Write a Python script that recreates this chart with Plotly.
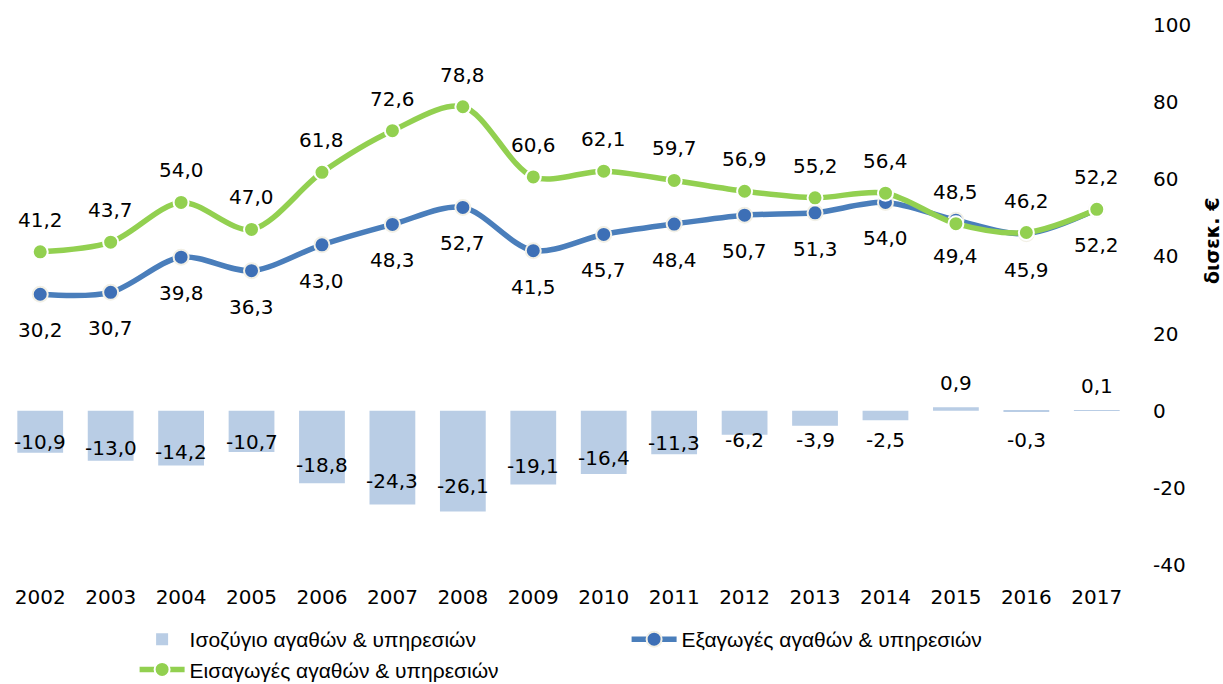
import plotly.graph_objects as go

years = [str(y) for y in range(2002, 2018)]
exports = [30.2, 30.7, 39.8, 36.3, 43.0, 48.3, 52.7, 41.5, 45.7, 48.4, 50.7, 51.3, 54.0, 49.4, 45.9, 52.2]
imports = [41.2, 43.7, 54.0, 47.0, 61.8, 72.6, 78.8, 60.6, 62.1, 59.7, 56.9, 55.2, 56.4, 48.5, 46.2, 52.2]
balance = [-10.9, -13.0, -14.2, -10.7, -18.8, -24.3, -26.1, -19.1, -16.4, -11.3, -6.2, -3.9, -2.5, 0.9, -0.3, 0.1]
y_ticks = [-40, -20, 0, 20, 40, 60, 80, 100]

BAR = "#B9CDE5"
BLUE = "#4A7EBB"
GREEN = "#92D050"
NUM_FONT = dict(family="DejaVu Sans", size=20, color="#000000")


def fmt(v):
    return f"{v:.1f}".replace(".", ",")


fig = go.Figure()

fig.add_trace(go.Bar(
    x=years, y=balance, name="Ισοζύγιο αγαθών & υπηρεσιών",
    marker=dict(color=BAR, line=dict(width=0)),
    hoverinfo="skip",
))

fig.add_trace(go.Scatter(
    x=years, y=exports, name="Εξαγωγές αγαθών & υπηρεσιών",
    mode="lines+markers",
    line=dict(color=BLUE, width=5.5, shape="spline", smoothing=0.9),
    marker=dict(size=15, color="#3D6FB6", line=dict(color="#F2F0E6", width=2)),
))

fig.add_trace(go.Scatter(
    x=years, y=imports, name="Εισαγωγές αγαθών & υπηρεσιών",
    mode="lines+markers",
    line=dict(color=GREEN, width=5.5, shape="spline", smoothing=0.9),
    marker=dict(size=15, color=GREEN, line=dict(color="#FFFFFF", width=2)),
))

# value labels: imports above, exports below, balance inside/above the bars
annotations = []
for i, v in enumerate(imports):
    annotations.append(dict(x=i, y=v, text=fmt(v), showarrow=False,
                            yshift=32, font=NUM_FONT))
for i, v in enumerate(exports):
    annotations.append(dict(x=i, y=v, text=fmt(v), showarrow=False,
                            yshift=-36, font=NUM_FONT))
for i, v in enumerate(balance):
    if v >= 0:
        annotations.append(dict(x=i, y=v, text=fmt(v), showarrow=False,
                                yshift=24, font=NUM_FONT))
    else:
        annotations.append(dict(x=i, y=min(v * 0.75, -7.6), text=fmt(v),
                                showarrow=False, font=NUM_FONT))

annotations.append(dict(
    text="<b>δισεκ. €</b>", xref="paper", yref="paper", x=1.071, y=0.60,
    xanchor="center", yanchor="middle",
    showarrow=False, textangle=-90,
    font=dict(family="DejaVu Sans", size=19, color="#000000"),
))

fig.update_layout(
    width=1223, height=684,
    margin=dict(l=5, r=91, t=25, b=119, autoexpand=False),
    paper_bgcolor="white", plot_bgcolor="white",
    barmode="relative", bargap=0.35,
    showlegend=True,
    legend=dict(
        orientation="h", x=0.115, xanchor="left", y=-0.10, yanchor="top",
        font=dict(family="Liberation Sans", size=21, color="#000000"),
        entrywidth=432, tracegroupgap=0, itemwidth=45,
        bgcolor="rgba(0,0,0,0)",
    ),
    annotations=annotations,
    xaxis=dict(
        type="category", range=[-0.5, len(years) - 0.5], automargin=False,
        showgrid=False, zeroline=False, showline=False,
        ticks="", tickfont=NUM_FONT, ticklabelstandoff=18,
    ),
    yaxis=dict(
        side="right", range=[-40, 100], tickvals=y_ticks, automargin=False,
        ticktext=[str(t) for t in y_ticks], showgrid=False,
        zeroline=False, showline=False, ticks="",
        tickfont=NUM_FONT, ticklabelstandoff=20,
    ),
)

fig.write_html("out.html")
